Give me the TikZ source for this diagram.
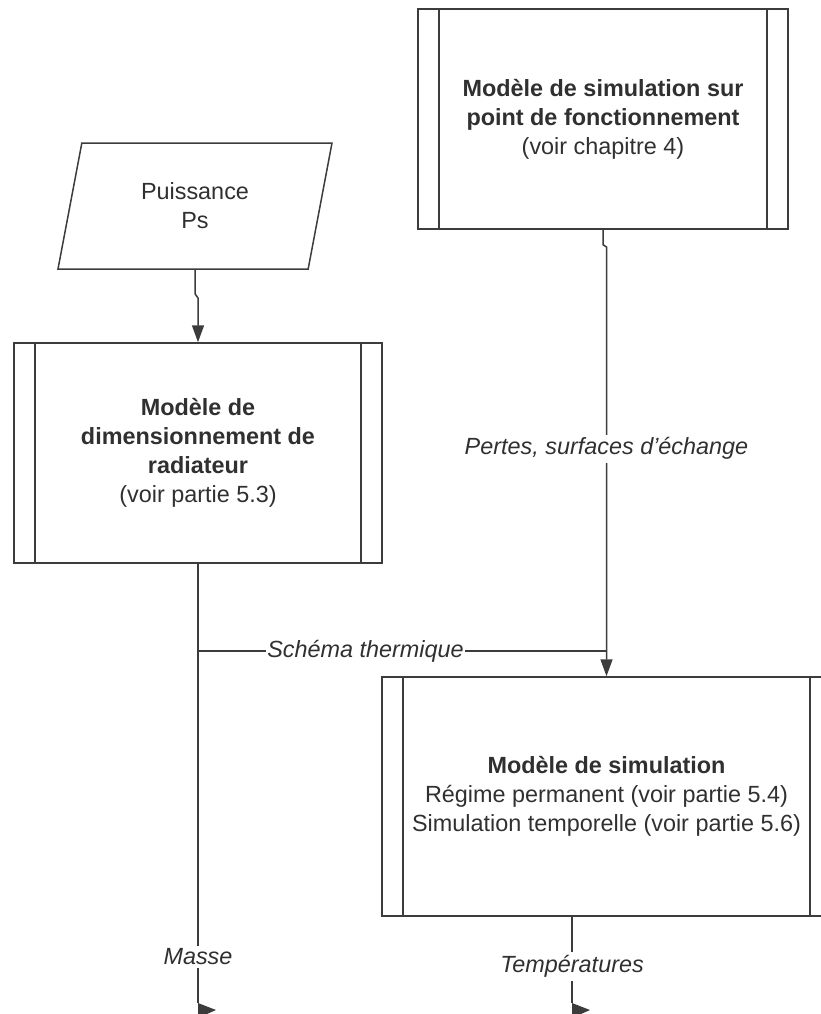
\documentclass[tikz,border=0pt]{standalone}
\usepackage{fontspec}
\setmainfont{Liberation Sans}
\usetikzlibrary{shapes.geometric,arrows.meta}
\definecolor{ln}{HTML}{3C3C3C}
\definecolor{tx}{HTML}{303030}
\begin{document}
\begin{tikzpicture}[x=1pt,y=-1pt,
  every node/.style={text=tx, font=\fontsize{23.4}{29}\selectfont},
  sub/.style={draw=ln, line width=1.5pt, rectangle, align=center, inner sep=0pt,
    path picture={
      \draw[ln, line width=1.5pt] ([xshift=21pt]path picture bounding box.north west) -- ([xshift=21pt]path picture bounding box.south west);
      \draw[ln, line width=1.5pt] ([xshift=-21pt]path picture bounding box.north east) -- ([xshift=-21pt]path picture bounding box.south east);
    }},
  io/.style={draw=ln, line width=1.5pt, trapezium, trapezium left angle=62.7, trapezium right angle=117.3,
    trapezium stretches body, minimum width=274pt, minimum height=126pt, align=center, inner sep=0pt},
  flow/.style={draw=ln, line width=1.5pt},
  arr/.style={-{Triangle[length=17pt,width=12pt]}},
  lbl/.style={fill=white, font=\itshape\fontsize{23.4}{29}\selectfont, inner sep=3pt}
]
\useasboundingbox (0,0) rectangle (821,1014);

\node[sub, minimum width=370pt, minimum height=220pt] (ptf) at (603,119)
  {\textbf{Modèle de simulation sur}\\\textbf{point de fonctionnement}\\(voir chapitre 4)};
\node[io] (ps) at (195,206) {Puissance\\Ps};
\node[sub, minimum width=368pt, minimum height=220pt] (dim) at (198,453)
  {\textbf{Modèle de}\\\textbf{dimensionnement de}\\\textbf{radiateur}\\(voir partie 5.3)};
\node[sub, minimum width=449pt, minimum height=239pt] (sim) at (606.5,796.5)
  {\textbf{Modèle de simulation}\\Régime permanent (voir partie 5.4)\\Simulation temporelle (voir partie 5.6)};

% Puissance -> dimensionnement
\coordinate (j0) at (198,298);
\draw[flow, arr] (ps.south) -- ++(0,24) -- (j0) -- (dim.north);

% point de fonctionnement -> simulation
\coordinate (j1) at (606.5,247);
\draw[flow, arr] (ptf.south) -- ++(0,15) -- (j1)
  -- node[lbl, pos=0.47] (lp) {Pertes, surfaces d'échange} (sim.north);

% Schéma thermique branch
\coordinate (b1) at (198,651);
\coordinate (b2) at (606.5,651);
\draw[flow] (b1) -- node[lbl, pos=0.41, inner sep=1pt] (ls) {Schéma thermique} (b2);

% Masse
\coordinate (m) at (198,1003);
\draw[flow] (dim.south) -- node[lbl, pos=0.895] (lm) {Masse} (m);
\fill[ln] (m) -- ++(18,7) -- ++(-18,8) -- cycle;

% Températures
\coordinate (ts) at (572,916);
\coordinate (t) at (572,1003);
\draw[flow] (ts) -- node[lbl, pos=0.58] (lt) {Températures} (t);
\fill[ln] (t) -- ++(18,7) -- ++(-18,8) -- cycle;
\end{tikzpicture}
\end{document}
